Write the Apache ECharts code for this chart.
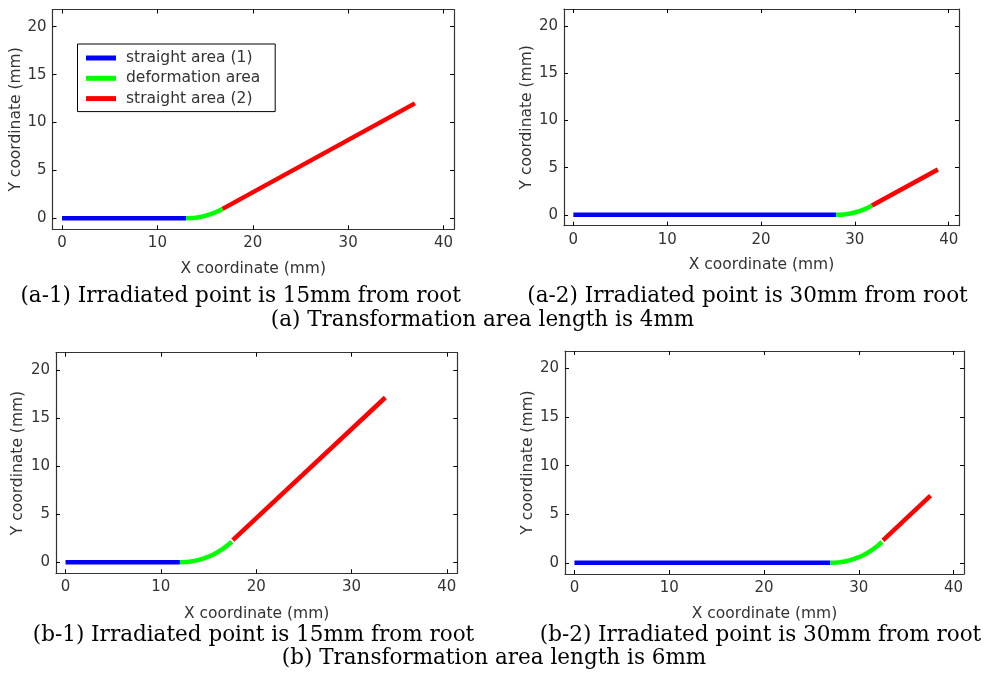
<!DOCTYPE html>
<html>
<head>
<meta charset="utf-8">
<script src="https://cdn.jsdelivr.net/npm/echarts@6/dist/echarts.min.js"></script>
<style>
html,body{margin:0;padding:0;background:#fff;}
#c{width:989px;height:673px;}
</style>
</head>
<body>
<div id="c"></div>
<script>
// ---- data ----
const seriesNames = ['straight area (1)', 'deformation area', 'straight area (2)'];
const xTicks = [0, 10, 20, 30, 40];
const yTicks = [0, 5, 10, 15, 20];

// (a-1) transformation 4mm, irradiated 15mm from root
const a1Straight1 = [[0, 0], [13.0, 0]];
const a1Deform = [[13.0, 0], [13.5, 0.02], [14.0, 0.06], [14.5, 0.14], [15.0, 0.25], [15.5, 0.40], [16.0, 0.58], [16.5, 0.81], [16.83, 0.98]];
const a1Straight2 = [[16.83, 0.98], [37.0, 12.0]];

// (a-2) transformation 4mm, irradiated 30mm from root
const a2Straight1 = [[0, 0], [28.0, 0]];
const a2Deform = [[28.0, 0], [28.5, 0.02], [29.0, 0.06], [29.5, 0.14], [30.0, 0.25], [30.5, 0.40], [31.0, 0.58], [31.5, 0.81], [31.83, 0.98]];
const a2Straight2 = [[31.83, 0.98], [38.85, 4.81]];

// (b-1) transformation 6mm, irradiated 15mm from root
const b1Straight1 = [[0, 0], [12.0, 0]];
const b1Deform = [[12.0, 0], [12.5, 0.02], [13.0, 0.06], [13.5, 0.14], [14.0, 0.25], [14.5, 0.40], [15.0, 0.58], [15.5, 0.81], [16.0, 1.07], [16.5, 1.39], [17.0, 1.76], [17.45, 2.14]];
const b1Straight2 = [[17.55, 2.3], [33.55, 17.14]];

// (b-2) transformation 6mm, irradiated 30mm from root
const b2Straight1 = [[0, 0], [27.0, 0]];
const b2Deform = [[27.0, 0], [27.5, 0.02], [28.0, 0.06], [28.5, 0.14], [29.0, 0.25], [29.5, 0.40], [30.0, 0.58], [30.5, 0.81], [31.0, 1.07], [31.5, 1.39], [32.0, 1.76], [32.45, 2.14]];
const b2Straight2 = [[32.55, 2.32], [37.57, 6.91]];

const captions = [
  '(a-1) Irradiated point is 15mm from root',
  '(a-2) Irradiated point is 30mm from root',
  '(a) Transformation area length is 4mm',
  '(b-1) Irradiated point is 15mm from root',
  '(b-2) Irradiated point is 30mm from root',
  '(b) Transformation area length is 6mm'
];
const xName = 'X coordinate (mm)';
const yName = 'Y coordinate (mm)';

// ---- layout / style ----
const colors = ['#0000ff', '#00ff00', '#ff0000'];
const grids = [
  {left: 52.5, top: 9.5, width: 401.5, height: 219.8},
  {left: 564, top: 9, width: 395, height: 216.7},
  {left: 56, top: 352.7, width: 401.3, height: 220.6},
  {left: 565, top: 351, width: 399, height: 223}
];
const xNameGaps = [32, 31, 32.5, 32];
const yNameGaps = [24.5, 26, 30.5, 21.5];
const panels = [
  [a1Straight1, a1Deform, a1Straight2],
  [a2Straight1, a2Deform, a2Straight2],
  [b1Straight1, b1Deform, b1Straight2],
  [b2Straight1, b2Deform, b2Straight2]
];
const lineWidths = [4.5, 4.5, 4.5];
const tickFont = "'DejaVu Sans', sans-serif";
const axisColor = '#333';

const xAxes = [], yAxes = [], series = [];
grids.forEach((g, i) => {
  const common = {
    type: 'value', gridIndex: i,
    axisLine: {show: true, onZero: false, lineStyle: {color: axisColor, width: 1.2}},
    axisTick: {show: true, inside: true, length: 4, lineStyle: {color: '#000', width: 1}},
    splitLine: {show: false}
  };
  xAxes.push(Object.assign({}, common, {
    position: 'bottom', min: -1, max: 41.1,
    axisTick: Object.assign({}, common.axisTick, {customValues: xTicks}),
    axisLabel: {customValues: xTicks, color: '#333', fontSize: 15, fontFamily: tickFont, margin: 6.5},
    name: xName, nameLocation: 'middle', nameGap: xNameGaps[i],
    nameTextStyle: {color: '#333', fontSize: 15.5, fontFamily: tickFont}
  }));
  xAxes.push(Object.assign({}, common, {
    position: 'top', min: -1, max: 41.1,
    axisTick: Object.assign({}, common.axisTick, {customValues: xTicks}),
    axisLabel: {show: false}
  }));
  yAxes.push(Object.assign({}, common, {
    position: 'left', min: -1.15, max: 21.8,
    axisTick: Object.assign({}, common.axisTick, {customValues: yTicks}),
    axisLabel: {customValues: yTicks, color: '#333', fontSize: 15, fontFamily: tickFont, margin: 6},
    name: yName, nameLocation: 'middle', nameGap: yNameGaps[i], nameRotate: 90,
    nameTextStyle: {color: '#333', fontSize: 15.5, fontFamily: tickFont}
  }));
  yAxes.push(Object.assign({}, common, {
    position: 'right', min: -1.15, max: 21.8,
    axisTick: Object.assign({}, common.axisTick, {customValues: yTicks}),
    axisLabel: {show: false}
  }));
  panels[i].forEach((d, k) => {
    series.push({
      name: seriesNames[k], type: 'line', xAxisIndex: 2 * i, yAxisIndex: 2 * i,
      data: d, showSymbol: false, symbol: 'none', smooth: false,
      lineStyle: {color: colors[k], width: lineWidths[k], cap: 'butt'},
      itemStyle: {color: colors[k]},
      animation: false, silent: true
    });
  });
});

const captionPos = [
  {left: 240.7, top: 296},
  {left: 747.5, top: 296},
  {left: 482.5, top: 320},
  {left: 253.5, top: 635},
  {left: 760.5, top: 635},
  {left: 494, top: 658}
];
const graphic = captions.map((t, i) => ({
  type: 'text', x: captionPos[i].left, y: captionPos[i].top,
  style: {text: t, fill: '#000', font: "21.5px 'DejaVu Serif', serif", textAlign: 'center', textVerticalAlign: 'middle'}
}));

const chart = echarts.init(document.getElementById('c'), null, {renderer: 'canvas'});
chart.setOption({
  animation: false,
  backgroundColor: '#fff',
  grid: grids.map(g => Object.assign({containLabel: false}, g)),
  xAxis: xAxes,
  yAxis: yAxes,
  legend: {
    data: seriesNames.map((n, k) => ({name: n, icon: 'rect', itemStyle: {color: colors[k]}})),
    orient: 'vertical', left: 77.5, top: 44,
    itemWidth: 30, itemHeight: 5, itemGap: 4.3,
    padding: [6, 15, 5, 8.5],
    borderColor: '#000', borderWidth: 1, backgroundColor: '#fff',
    selectedMode: false,
    textStyle: {color: '#333', fontSize: 15.5, fontFamily: tickFont, lineHeight: 15, padding: [0, 0, 0, 5]}
  },
  graphic: graphic,
  series: series
});
</script>
</body>
</html>
